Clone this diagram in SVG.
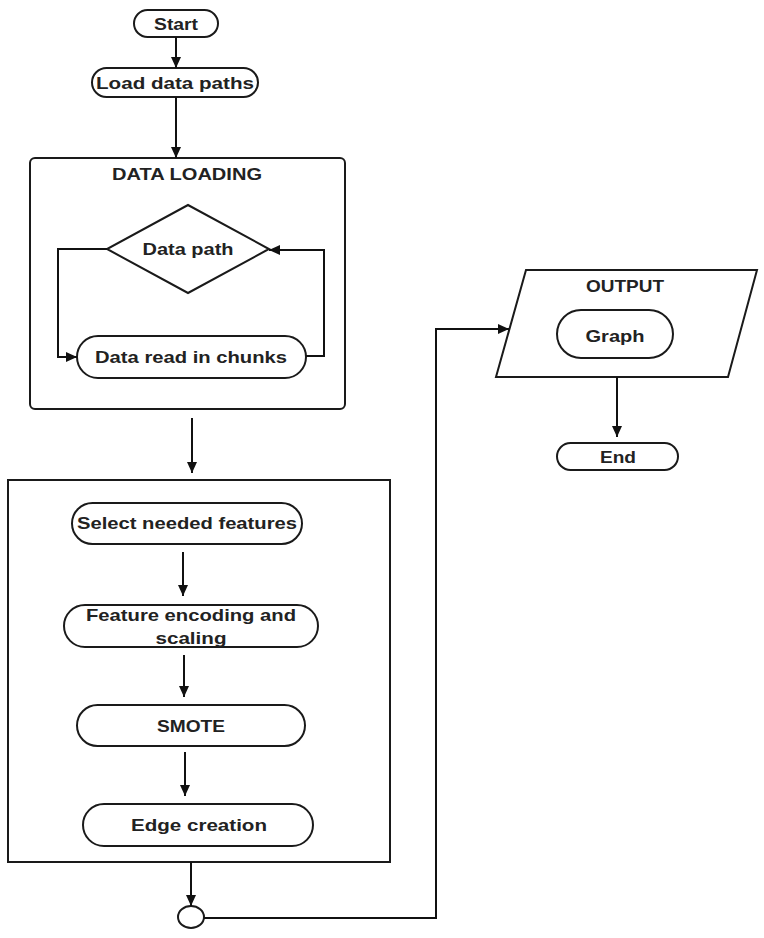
<svg xmlns="http://www.w3.org/2000/svg" width="764" height="938" viewBox="0 0 764 938">
<style>
.s{fill:#fff;stroke:#1a1a1a;stroke-width:2}
.t{font-family:"Liberation Sans",Arial,sans-serif;font-weight:bold;font-size:17px;fill:#222;text-anchor:middle}
.c{fill:none;stroke:#111;stroke-width:2}
</style>
<defs>
<marker id="ah" markerUnits="userSpaceOnUse" markerWidth="12" markerHeight="10" refX="11" refY="5" orient="auto">
<path d="M0,0 L11,5 L0,10 Z" fill="#111"/>
</marker>
</defs>
<rect width="764" height="938" fill="#fff"/>
<g id="data-loading-box">
<rect class="s" x="30" y="158" width="315" height="251" rx="5"/>
<text class="t" x="187" y="180" textLength="150" lengthAdjust="spacingAndGlyphs">DATA LOADING</text>
</g>
<g id="processing-box">
<rect class="s" x="8" y="480" width="382" height="382"/>
</g>
<g id="output">
<polygon class="s" points="526,270 757,270 728,377 496,377"/>
<text class="t" x="625" y="292" textLength="78" lengthAdjust="spacingAndGlyphs">OUTPUT</text>
</g>
<g id="start">
<rect class="s" x="134" y="10" width="84" height="27" rx="13.5"/>
<text class="t" x="176" y="30" textLength="44" lengthAdjust="spacingAndGlyphs">Start</text>
</g>
<g id="load">
<rect class="s" x="92" y="68" width="166" height="29" rx="14.5"/>
<text class="t" x="175" y="89" textLength="158" lengthAdjust="spacingAndGlyphs">Load data paths</text>
</g>
<g id="data-path">
<polygon class="s" points="188,205 269,249 188,293 107,249"/>
<text class="t" x="188" y="255" textLength="91" lengthAdjust="spacingAndGlyphs">Data path</text>
</g>
<g id="read-chunks">
<rect class="s" x="77" y="336" width="229" height="42" rx="21"/>
<text class="t" x="191" y="363" textLength="192" lengthAdjust="spacingAndGlyphs">Data read in chunks</text>
</g>
<g id="select">
<rect class="s" x="72" y="503" width="230" height="41" rx="20.5"/>
<text class="t" x="187" y="529" textLength="220" lengthAdjust="spacingAndGlyphs">Select needed features</text>
</g>
<g id="encoding">
<rect class="s" x="64" y="605" width="254" height="42" rx="21"/>
<text class="t" x="191" y="621" textLength="210" lengthAdjust="spacingAndGlyphs">Feature encoding and</text>
<text class="t" x="191" y="644" textLength="71" lengthAdjust="spacingAndGlyphs">scaling</text>
</g>
<g id="smote">
<rect class="s" x="77" y="705" width="228" height="41" rx="20.5"/>
<text class="t" x="191" y="732" textLength="68" lengthAdjust="spacingAndGlyphs">SMOTE</text>
</g>
<g id="edge">
<rect class="s" x="83" y="804" width="230" height="42" rx="21"/>
<text class="t" x="199" y="831" textLength="136" lengthAdjust="spacingAndGlyphs">Edge creation</text>
</g>
<g id="junction">
<ellipse class="s" cx="191" cy="917" rx="13" ry="11"/>
</g>
<g id="graph">
<rect class="s" x="557" y="310" width="116" height="48" rx="24"/>
<text class="t" x="615" y="342" textLength="59" lengthAdjust="spacingAndGlyphs">Graph</text>
</g>
<g id="end">
<rect class="s" x="557" y="443" width="121" height="27" rx="13.5"/>
<text class="t" x="618" y="463" textLength="36" lengthAdjust="spacingAndGlyphs">End</text>
</g>
<g id="connectors">
<path class="c" d="M176,37 V68" marker-end="url(#ah)"/>
<path class="c" d="M176,97 V158" marker-end="url(#ah)"/>
<path class="c" d="M107,249 H58 V357 H77" marker-end="url(#ah)"/>
<path class="c" d="M306,356 H324 V250 H269" marker-end="url(#ah)"/>
<path class="c" d="M192,418 V473" marker-end="url(#ah)"/>
<path class="c" d="M183,552 V596" marker-end="url(#ah)"/>
<path class="c" d="M184,655 V697" marker-end="url(#ah)"/>
<path class="c" d="M185,752 V796" marker-end="url(#ah)"/>
<path class="c" d="M191,862 V906" marker-end="url(#ah)"/>
<path class="c" d="M204,918 H436 V329 H509" marker-end="url(#ah)"/>
<path class="c" d="M617,377 V437" marker-end="url(#ah)"/>
</g>
</svg>
